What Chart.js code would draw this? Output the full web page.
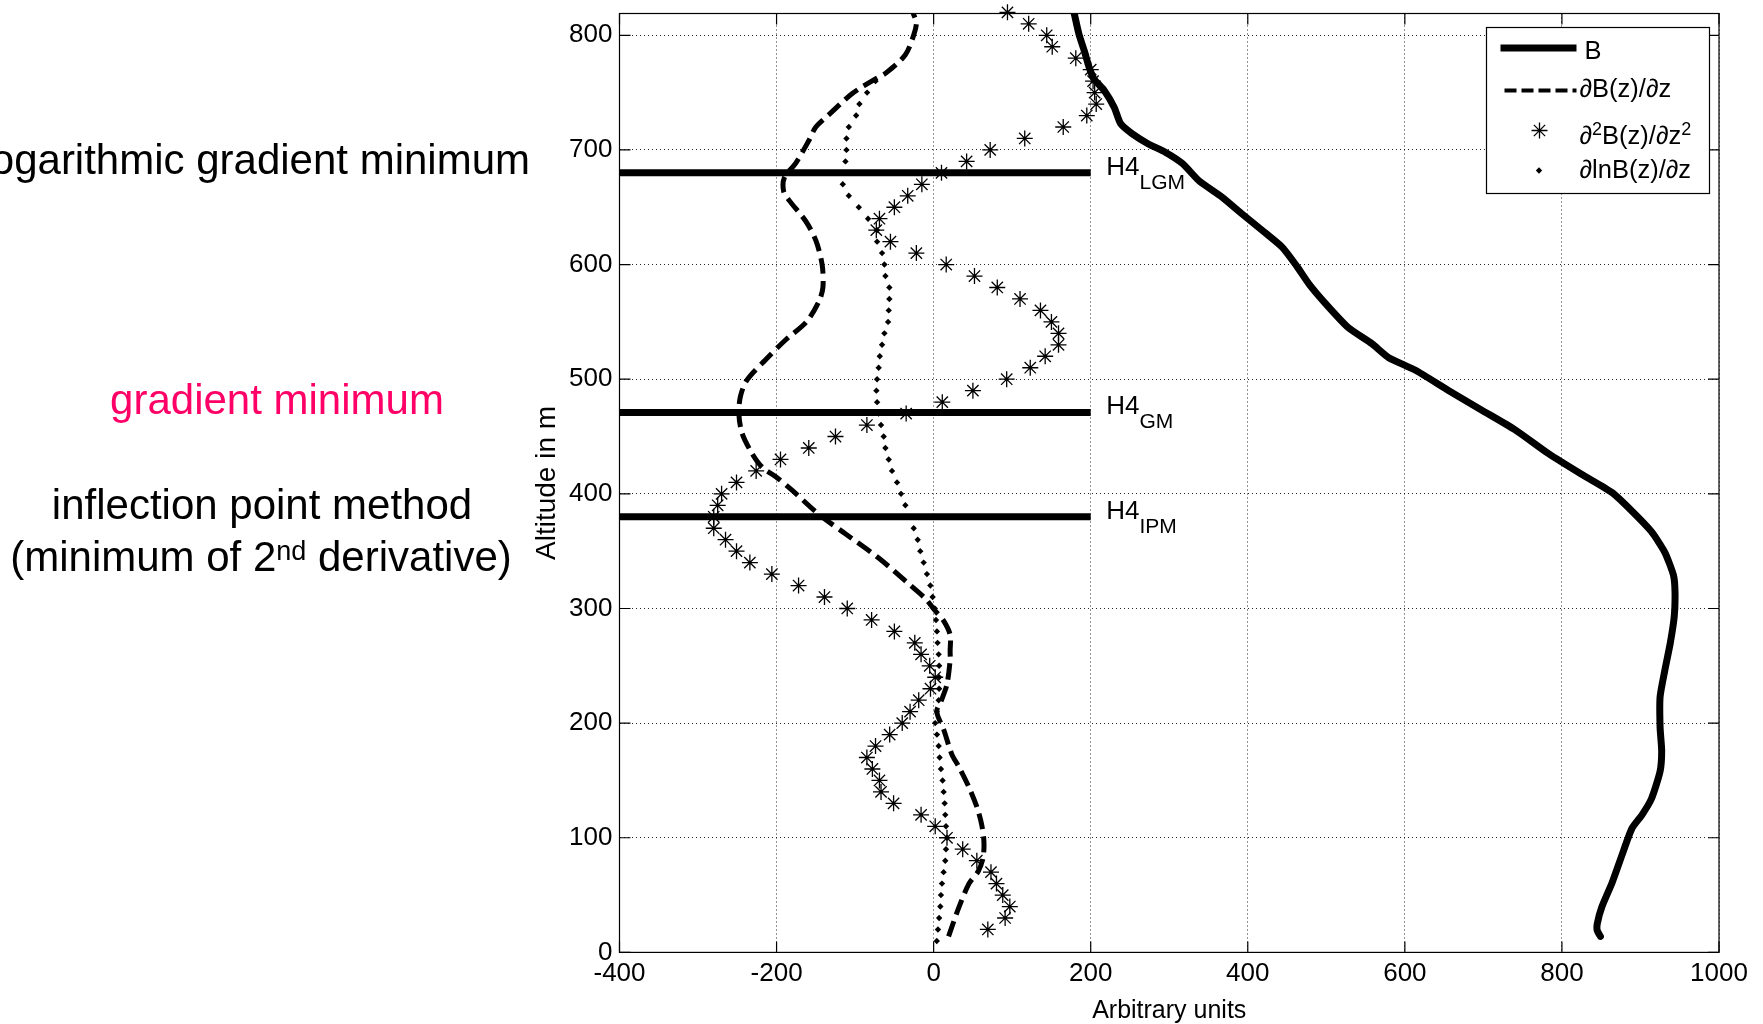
<!DOCTYPE html>
<html>
<head>
<meta charset="utf-8">
<title>Mixing layer height – H4 methods</title>
<script src="https://cdn.jsdelivr.net/npm/chart.js@4.4.1/dist/chart.umd.min.js"></script>
<style>
  html, body { margin: 0; padding: 0; background: #fff; }
  #wrap { width: 1763px; height: 1024px; }
</style>
</head>
<body>
<div id="wrap"><canvas id="profileChart" width="1763" height="1024"></canvas></div>
<script>
// profil B(z) und Ableitungen — H4 Methoden (LGM / GM / IPM)

const FONT = "'Liberation Sans', Arial, Helvetica, sans-serif";

/* ===== DATA ===== */
// B: thick solid profile
const altB = [14, 19, 25, 40, 61, 84, 108, 120, 134, 158, 176, 196, 223, 246, 270, 293, 314, 329, 349, 367,
              385, 401, 417, 435, 456, 473, 490, 508, 519, 531, 545, 566, 583, 598, 615, 630, 644, 659, 673, 688,
              698, 705, 714, 723, 737, 752, 762, 772, 786, 801, 819];
const valB = [849, 845, 845, 851, 864, 876, 889, 902, 914, 925, 927, 925, 925, 931, 938, 943, 944, 942, 931, 914,
              889, 864, 825, 783, 740, 698, 656, 613, 579, 558, 528, 499, 478, 463, 444, 418, 393, 367, 338, 317,
              295, 274, 253, 238, 230, 217, 204, 198, 192, 185, 179];

// dB/dz: dashed
const altGrad = [14, 39, 60, 71, 83, 97, 112, 127, 144, 162, 173, 194, 210, 220, 234, 255, 263, 277, 289, 298,
                 309, 324, 344, 365, 382, 403, 415, 423, 435, 453, 470, 485, 499, 517, 534, 550, 568, 580, 600, 621,
                 638, 656, 664, 676, 688, 708, 720, 731, 749, 762, 767, 783, 801, 811, 819];
const valGrad = [19, 32, 45, 57, 63, 64, 61, 55, 45, 32, 23, 13, 4, 10, 17, 21, 21, 21, 13, 2,
                 -11, -36, -70, -112, -146, -180, -201, -218, -231, -244, -248, -246, -238, -214, -189, -162, -146, -141, -142, -150,
                 -163, -184, -191, -190, -176, -159, -150, -133, -104, -74, -61, -36, -25, -22, -26];

// d2B/dz2: asterisks
const altCurv = [20, 30, 40, 50, 60, 70, 80, 90, 100, 110, 120, 130, 140, 150, 160, 170, 180, 190, 200, 210,
                 220, 230, 240, 250, 260, 270, 280, 290, 300, 310, 320, 330, 340, 350, 360, 370, 380, 390, 400, 410,
                 420, 430, 440, 450, 460, 470, 480, 490, 500, 510, 520, 530, 540, 550, 560, 570, 580, 590, 600, 610,
                 620, 630, 640, 650, 660, 670, 680, 690, 700, 710, 720, 730, 740, 750, 760, 770, 780, 790, 800, 810, 820];
const valCurv = [69, 91, 97, 88, 80, 73, 55, 37, 17, 2, -16, -51, -67, -69, -78, -85, -74, -56, -40, -30,
                 -19, -4, 2, -5, -16, -24, -50, -79, -110, -139, -172, -206, -234, -251, -265, -280, -280, -275, -270, -251,
                 -226, -195, -159, -125, -85, -35, 11, 50, 93, 123, 142, 159, 159, 150, 136, 110, 81, 52, 16, -22,
                 -55, -73, -69, -50, -33, -15, 10, 42, 72, 116, 165, 195, 207, 205, 203, 200, 181, 151, 144, 121, 94];

// dlnB/dz: small dots
const altLog = [10, 20, 30, 40, 50, 60, 70, 80, 90, 100, 110, 120, 130, 140, 150, 160, 170, 180, 190, 200,
                210, 220, 230, 240, 250, 260, 270, 280, 290, 300, 310, 320, 330, 340, 350, 360, 370, 380, 390, 400,
                410, 420, 430, 440, 450, 460, 470, 480, 490, 500, 510, 520, 530, 540, 550, 560, 570, 580, 590, 600,
                610, 620, 630, 640, 650, 660, 670, 680, 690, 700, 710, 720, 730, 740, 750, 760];
const valLog = [4, 5.5, 7, 8.5, 9.3, 10.6, 12.7, 14.8, 15.7, 17, 15.7, 14.8, 14, 12.7, 11.4, 9.3, 7.6, 6.4, 4.2, 2,
                4, 6.4, 7, 7, 7, 6.4, 5, 4.2, 3, 1.5, -1.3, -4.2, -8.5, -12.7, -17, -20.3, -25.4, -31, -36, -41.5,
                -46.6, -53, -57.2, -61.4, -63.6, -67, -70, -72, -72.9, -72, -70, -68.6, -65.7, -62.7, -58, -57.2, -56.4, -56.4, -61.4, -62.7,
                -65.7, -72, -72, -83.5, -95.3, -108, -115.7, -115, -112.3, -111, -111, -108, -98.7, -94.5, -84.7, -74];

// H4 levels (horizontal bars from x=-400 to x=200)
const levelNames = ['LGM', 'GM', 'IPM'];
const levelAlt   = [680, 471, 380];
const levelFrom  = -400, levelTo = 200;

const xTicks = [-400, -200, 0, 200, 400, 600, 800, 1000];
const yTicks = [0, 100, 200, 300, 400, 500, 600, 700, 800];
const xMin = -400, xMax = 1000, yMin = 0, yMax = 819;

/* ===== helpers ===== */
const pts = (alts, vals) => alts.map((a, i) => ({ x: vals[i], y: a }));

// text made of runs: [text, 'sup'|'sub'|undefined]
function drawRuns(ctx, runs, x, y, align, big, small, shift) {
  const fontOf = r => (r[1] ? small : big) + 'px ' + FONT;
  let w = 0;
  runs.forEach(r => { ctx.font = fontOf(r); w += ctx.measureText(r[0]).width; });
  let cx = align === 'center' ? x - w / 2 : (align === 'right' ? x - w : x);
  ctx.textAlign = 'left';
  ctx.textBaseline = 'alphabetic';
  runs.forEach(r => {
    ctx.font = fontOf(r);
    const dy = r[1] === 'sup' ? -shift : (r[1] === 'sub' ? shift : 0);
    ctx.fillText(r[0], cx, y + dy);
    cx += ctx.measureText(r[0]).width;
  });
}

/* ===== PLUGINS ===== */
const framePlugin = {
  id: 'frame',
  afterDatasetsDraw(chart) {
    const { ctx, chartArea: a, scales: { x, y } } = chart;
    ctx.save();
    ctx.strokeStyle = '#000';
    ctx.lineWidth = 1.2;
    ctx.strokeRect(a.left, a.top, a.right - a.left, a.bottom - a.top);
    ctx.beginPath();
    xTicks.forEach(v => {
      const p = x.getPixelForValue(v);
      ctx.moveTo(p, a.bottom); ctx.lineTo(p, a.bottom - 11);
      ctx.moveTo(p, a.top);    ctx.lineTo(p, a.top + 11);
    });
    yTicks.forEach(v => {
      const p = y.getPixelForValue(v);
      ctx.moveTo(a.left, p);  ctx.lineTo(a.left + 11, p);
      ctx.moveTo(a.right, p); ctx.lineTo(a.right - 11, p);
    });
    ctx.stroke();
    ctx.restore();
  }
};

const levelLabelPlugin = {
  id: 'levelLabels',
  afterDatasetsDraw(chart) {
    const { ctx, scales: { x, y } } = chart;
    ctx.save();
    ctx.fillStyle = '#000';
    levelAlt.forEach((alt, i) => {
      const px = x.getPixelForValue(levelTo) + 15.5;
      const py = y.getPixelForValue(alt) + 2;
      drawRuns(ctx, [['H4'], [levelNames[i], 'sub']], px, py, 'left', 26, 21, 14);
    });
    ctx.restore();
  }
};

const legendPlugin = {
  id: 'boxLegend',
  afterDraw(chart) {
    const { ctx, chartArea: a } = chart;
    const ds = chart.data.datasets;
    const L = a.right - 232.5, T = a.top + 14, W = 223, H = 166;
    ctx.save();
    ctx.fillStyle = '#fff';
    ctx.fillRect(L, T, W, H);
    ctx.strokeStyle = '#000';
    ctx.lineWidth = 1.2;
    ctx.strokeRect(L, T, W, H);

    // B
    ctx.lineWidth = ds[0].borderWidth;
    ctx.beginPath(); ctx.moveTo(L + 14, T + 20.5); ctx.lineTo(L + 90, T + 20.5); ctx.stroke();
    // dB/dz
    ctx.lineWidth = ds[1].borderWidth - 1;
    ctx.setLineDash([12, 5]);
    ctx.beginPath(); ctx.moveTo(L + 18, T + 63); ctx.lineTo(L + 90, T + 63); ctx.stroke();
    ctx.setLineDash([]);
    // asterisk
    const sx = L + 53, sy = T + 103, r = ds[2].pointRadius;
    ctx.lineWidth = ds[2].borderWidth;
    ctx.beginPath();
    for (let k = 0; k < 4; k++) {
      const ang = k * Math.PI / 4;
      ctx.moveTo(sx - r * Math.cos(ang), sy - r * Math.sin(ang));
      ctx.lineTo(sx + r * Math.cos(ang), sy + r * Math.sin(ang));
    }
    ctx.stroke();
    // dot
    const dx = L + 52.5, dy = T + 143, dr = ds[3].pointRadius;
    ctx.fillStyle = '#000';
    ctx.beginPath();
    ctx.moveTo(dx, dy - dr); ctx.lineTo(dx + dr, dy); ctx.lineTo(dx, dy + dr); ctx.lineTo(dx - dr, dy);
    ctx.closePath(); ctx.fill();

    ctx.fillStyle = '#000';
    drawRuns(ctx, [['B']], L + 98, T + 31, 'left', 25.5, 18, 9);
    drawRuns(ctx, [['∂B(z)/∂z']], L + 93, T + 69, 'left', 25.5, 18, 9);
    drawRuns(ctx, [['∂'], ['2', 'sup'], ['B(z)/∂z'], ['2', 'sup']], L + 93, T + 116, 'left', 25.5, 18, 9);
    drawRuns(ctx, [['∂lnB(z)/∂z']], L + 93, T + 150, 'left', 25.5, 18, 9);
    ctx.restore();
  }
};

// slide annotations to the left of the axes
const notePlugin = {
  id: 'notes',
  afterDraw(chart) {
    const { ctx } = chart;
    ctx.save();
    ctx.fillStyle = '#000';
    drawRuns(ctx, [['Logarithmic gradient minimum']], 530, 174, 'right', 42, 27, 11);
    ctx.fillStyle = '#ff0066';
    drawRuns(ctx, [['gradient minimum']], 277, 414, 'center', 42, 27, 11);
    ctx.fillStyle = '#000';
    drawRuns(ctx, [['inflection point method']], 262, 519, 'center', 42, 27, 11);
    drawRuns(ctx, [['(minimum of 2'], ['nd', 'sup'], [' derivative)']], 261, 571, 'center', 42, 27, 11);
    ctx.restore();
  }
};

/* ===== CHART ===== */
Chart.defaults.font.family = FONT;
Chart.defaults.color = '#000';

const levelSets = levelAlt.map((alt, i) => ({
  label: 'H4 ' + levelNames[i],
  data: [{ x: levelFrom, y: alt }, { x: levelTo, y: alt }],
  showLine: true, borderColor: '#000', borderWidth: 7, borderCapStyle: 'butt',
  pointRadius: 0
}));

new Chart(document.getElementById('profileChart'), {
  type: 'scatter',
  data: {
    datasets: [
      { label: 'B', data: pts(altB, valB), showLine: true, borderColor: '#000', borderWidth: 7,
        borderJoinStyle: 'round', borderCapStyle: 'round', tension: 0.2, pointRadius: 0 },
      { label: '∂B(z)/∂z', data: pts(altGrad, valGrad), showLine: true, borderColor: '#000', borderWidth: 5,
        borderDash: [16, 7], tension: 0.3, pointRadius: 0 },
      { label: '∂²B(z)/∂z²', data: pts(altCurv, valCurv), showLine: false, pointStyle: 'star',
        pointRadius: 8, borderColor: '#000', borderWidth: 1.3, clip: false },
      { label: '∂lnB(z)/∂z', data: pts(altLog, valLog), showLine: false, pointStyle: 'rectRot',
        pointRadius: 3.2, borderWidth: 0, backgroundColor: '#000', borderColor: '#000' },
      ...levelSets
    ]
  },
  options: {
    responsive: false,
    animation: false,
    events: [],
    layout: { padding: { left: 533.6, right: 44, top: 13.5, bottom: 0 } },
    plugins: { legend: { display: false }, tooltip: { enabled: false } },
    scales: {
      x: {
        type: 'linear', min: xMin, max: xMax,
        afterBuildTicks: s => { s.ticks = xTicks.map(v => ({ value: v })); },
        afterFit: s => { s.height = 71.6; s.paddingLeft = 0; s.paddingRight = 0; },
        grid: { color: 'rgba(0,0,0,0.85)', lineWidth: 1, drawTicks: false },
        border: { display: false, dash: [1, 3] },
        ticks: { font: { size: 26 }, padding: 6, autoSkip: false, maxRotation: 0, callback: v => String(v) },
        title: { display: true, text: 'Arbitrary units', font: { size: 25, lineHeight: 1 }, padding: 0 }
      },
      y: {
        type: 'linear', min: yMin, max: yMax,
        afterBuildTicks: s => { s.ticks = yTicks.map(v => ({ value: v })); },
        afterFit: s => { s.width = 85.9; s.paddingTop = 0; s.paddingBottom = 0; },
        grid: { color: 'rgba(0,0,0,0.85)', lineWidth: 1, drawTicks: false },
        border: { display: false, dash: [1, 3] },
        ticks: { font: { size: 26 }, padding: 7, callback: v => String(v) },
        title: { display: true, text: 'Altitude in m', font: { size: 28, lineHeight: 1 }, padding: 0 }
      }
    }
  },
  plugins: [framePlugin, levelLabelPlugin, legendPlugin, notePlugin]
});
</script>
</body>
</html>
